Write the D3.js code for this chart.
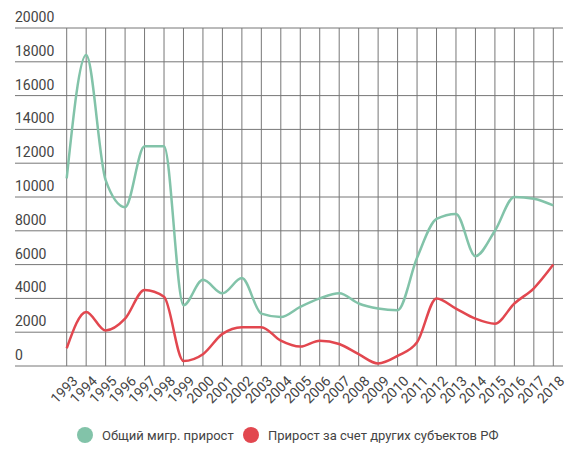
<!DOCTYPE html>
<html><head><meta charset="utf-8">
<script src="https://cdn.jsdelivr.net/npm/d3@7"></script>
<style>body{margin:0;background:#fff}text{font-family:Roboto,sans-serif}</style>
</head><body><svg id="chart" width="579" height="463"></svg>
<script>
const years = d3.range(1993, 2019);
const totalGrowth = [11100,18400,11000,9400,13000,13000,3600,5100,4300,5200,3100,2900,3500,4000,4300,3700,3400,3300,6400,8700,9000,6500,8000,10000,9900,9500];
const regionGrowth = [1050,3200,2100,2800,4500,4100,300,700,1900,2300,2300,1500,1150,1500,1300,700,150,600,1400,4000,3400,2800,2500,3700,4600,6000];
const yTicks = d3.range(0, 20001, 2000);
const seriesNames = ["Общий мигр. прирост", "Прирост за счет других субъектов РФ"];
const colors = ["#82c3a9", "#e2474f"];

const svg = d3.select("#chart");
const x = d3.scalePoint().domain(years).range([66.7, 553.3]);
const y = d3.scaleLinear().domain([0, 20000]).range([366, 28]);

// grid
svg.append("g").selectAll("line").data(yTicks).join("line")
  .attr("x1", 15).attr("x2", 563).attr("y1", d => y(d)).attr("y2", d => y(d))
  .attr("stroke", "#777").attr("stroke-width", 1);
svg.append("g").selectAll("line").data(years).join("line")
  .attr("x1", d => x(d)).attr("x2", d => x(d)).attr("y1", 28).attr("y2", 366)
  .attr("stroke", "#777").attr("stroke-width", 1);

svg.append("g").selectAll("text").data(yTicks).join("text")
  .attr("x", 15).attr("y", d => y(d) - 6)
  .attr("font-size", 14).attr("fill", "#444").text(d => d);

svg.append("g").selectAll("text").data(years).join("text")
  .attr("transform", d => `translate(${x(d) + 5},${375}) rotate(-45)`)
  .attr("text-anchor", "end").attr("dy", "0.7em")
  .attr("font-size", 14).attr("fill", "#444").text(d => d);

const line = d3.line().x((d, i) => x(years[i])).y(d => y(d)).curve(d3.curveMonotoneX);
[totalGrowth, regionGrowth].forEach((s, i) => {
  svg.append("path").attr("d", line(s)).attr("fill", "none")
    .attr("stroke", colors[i]).attr("stroke-width", 2.5);
});

// legend
const lx = [85, 251];
seriesNames.forEach((n, i) => {
  svg.append("circle").attr("cx", lx[i]).attr("cy", 435).attr("r", 8).attr("fill", colors[i]);
  svg.append("text").attr("x", lx[i] + 17).attr("y", 440)
    .attr("font-size", 13).attr("fill", "#444").text(n);
});
</script></body></html>
